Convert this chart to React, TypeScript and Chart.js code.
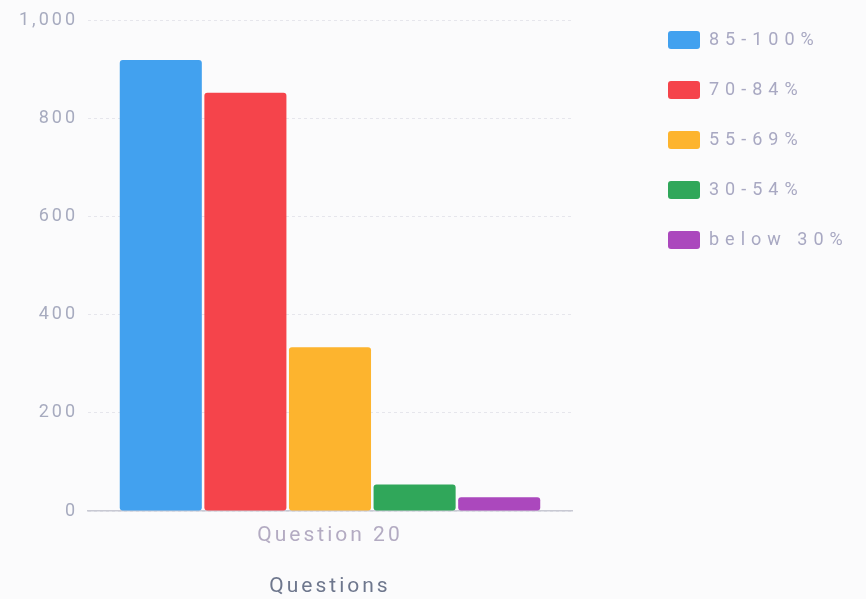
import React, { useEffect, useRef } from 'react';
import { Chart, registerables } from 'chart.js';

Chart.register(...registerables);

const categories = ['Question 20'];
const seriesLabels = ['85-100%', '70-84%', '55-69%', '30-54%', 'below 30%'];
const seriesValues = [920, 853, 334, 54, 28];
const seriesColors = ['#42a1ef', '#f5444b', '#fdb42e', '#30a75a', '#ab48bd'];
const yMin = 0;
const yMax = 1000;
const yStep = 200;
const xTitle = 'Questions';

export default function App() {
  const ref = useRef<HTMLCanvasElement>(null);

  useEffect(() => {
    if (!ref.current) return;

    const spacingPlugin = {
      id: 'spacingLegend',
      beforeLayout(chart: any) {
        chart.ctx.letterSpacing = '3px';
        const lg = chart.legend;
        if (lg && !lg._patched) {
          lg._patched = true;
          const proto = Object.getPrototypeOf(lg);
          lg.fit = function () {
            proto.fit.call(this);
            this.width = 294;
          };
          lg.draw = function () {
            const c = this.ctx;
            const prev = c.letterSpacing;
            c.letterSpacing = '6px';
            proto.draw.call(this);
            c.letterSpacing = prev;
          };
        }
      },
      afterLayout(chart: any) {
        const lg = chart.legend;
        if (lg) {
          lg.left = 636;
          lg.right = 866;
          lg.top = -1;
        }
      },
      beforeDraw(chart: any) {
        chart.ctx.letterSpacing = '3px';
      },
    };

    const chart = new Chart(ref.current, {
      type: 'bar',
      data: {
        labels: categories,
        datasets: seriesLabels.map((label, i) => ({
          label,
          data: [seriesValues[i]],
          backgroundColor: seriesColors[i],
          borderWidth: 0,
          borderRadius: 3,
          borderSkipped: false,
          categoryPercentage: 0.874,
          barPercentage: 0.97,
        })),
      },
      options: {
        animation: false,
        responsive: true,
        maintainAspectRatio: false,
        layout: { padding: { top: 20, left: 0, right: 0, bottom: 0 } },
        plugins: {
          legend: {
            display: true,
            position: 'right',
            align: 'start',
            labels: {
              boxWidth: 32,
              boxHeight: 18,
              padding: 32,
              useBorderRadius: true,
              borderRadius: 3,
              color: '#a8a8c2',
              font: { family: 'Roboto', size: 18 },
            },
          },
          tooltip: { enabled: false },
        },
        scales: {
          x: {
            grid: { display: false },
            border: { display: true, color: '#c8c9d3', width: 1.5 },
            ticks: {
              color: '#b3abc2',
              padding: 4,
              font: { family: 'Roboto', size: 21 },
            },
            title: {
              display: true,
              text: xTitle,
              color: '#6e778d',
              padding: { top: 0, bottom: 0 },
              font: { family: 'Roboto', size: 21 },
            },
            afterFit: (s: any) => {
              s.height = 88;
            },
          },
          y: {
            min: yMin,
            max: yMax,
            ticks: {
              stepSize: yStep,
              color: '#a7abbf',
              padding: 10,
              font: { family: 'Roboto', size: 18 },
            },
            grid: { color: '#e6e6ec', drawTicks: false, lineWidth: 1 },
            border: { display: false, dash: [3, 3] },
            afterFit: (s: any) => {
              s.width = 88;
            },
          },
        },
      },
      plugins: [spacingPlugin],
    });

    return () => chart.destroy();
  }, []);

  return (
    <div style={{ position: 'fixed', left: 0, top: 0, width: 866, height: 599, background: '#fbfbfc' }}>
      <canvas ref={ref} />
    </div>
  );
}
